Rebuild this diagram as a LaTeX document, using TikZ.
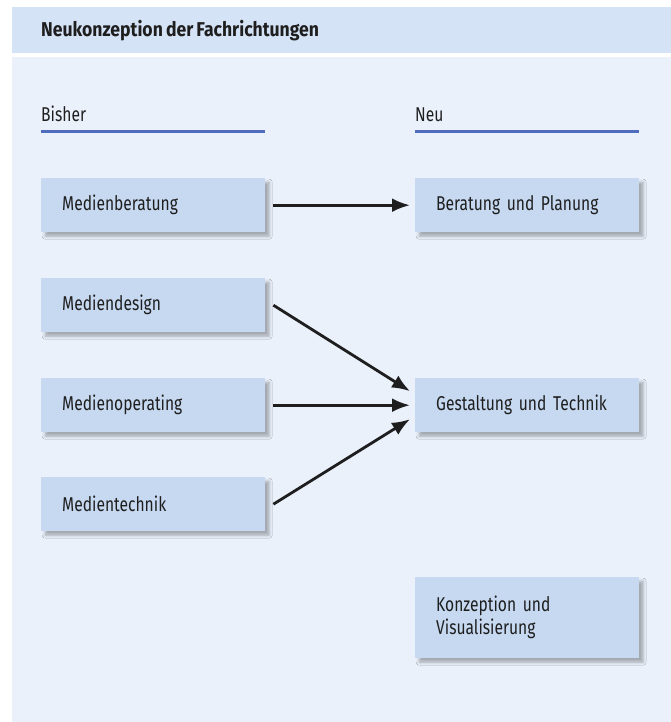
\documentclass[tikz,border=0pt]{standalone}
\usepackage{fontspec}
\setmainfont{Fira Sans}[FakeStretch=0.78, WordSpace=0.75]
\newfontfamily\titlefont{Fira Sans}[FakeStretch=0.88, WordSpace=0.75]
\usetikzlibrary{arrows.meta,shadows.blur}
\definecolor{headbg}{HTML}{D5E3F6}
\definecolor{bodybg}{HTML}{EAF1FB}
\definecolor{boxbg}{HTML}{C6D9F1}
\definecolor{rule}{HTML}{4E6DBE}
\definecolor{txt}{HTML}{1E1E1E}
\tikzset{
  boxnode/.style={fill=boxbg, draw=none, rectangle, anchor=north west,
    minimum width=224pt, minimum height=54pt, inner xsep=21pt, inner ysep=0pt,
    text width=182pt, align=left, font=\fontsize{20}{23}\selectfont, text=txt,
    blur shadow={shadow xshift=4pt, shadow yshift=-4pt, shadow blur radius=3pt, shadow opacity=30}},
  arr/.style={line width=2.8pt, color=txt, -{Latex[length=18pt,width=14pt]}},
  colhead/.style={anchor=base west, inner sep=0pt, font=\fontsize{20}{22}\selectfont, text=txt},
  rulebar/.style={line width=3pt, color=rule}
}
\begin{document}
\begin{tikzpicture}[x=1pt,y=-1pt]
\useasboundingbox (0,0) rectangle (671,722);
\fill[white] (0,0) rectangle (671,722);
\fill[headbg] (12,7) rectangle (671,53);
\fill[bodybg] (12,57) rectangle (671,722);
\node[anchor=base west, inner sep=0pt, font=\titlefont\fontsize{20}{22}\selectfont\bfseries, text=txt] (title) at (41,37) {Neukonzeption der Fachrichtungen};
\node[colhead] (bisher) at (41,122) {Bisher};
\node[colhead] (neu) at (415,122) {Neu};
\coordinate (bl1) at (41,132); \coordinate (bl2) at (265,132);
\coordinate (nl1) at (415,132); \coordinate (nl2) at (639,132);
\draw[rulebar] (bl1) -- (bl2);
\draw[rulebar] (nl1) -- (nl2);
\node[boxnode] (mb) at (41,178) {Medienberatung};
\node[boxnode] (md) at (41,278) {Mediendesign};
\node[boxnode] (mo) at (41,378) {Medienoperating};
\node[boxnode] (mt) at (41,477) {Medientechnik};
\node[boxnode] (bp) at (415,178) {Beratung und Planung};
\node[boxnode] (gt) at (415,378) {Gestaltung und Technik};
\node[boxnode, minimum height=81pt] (kv) at (415,577) {Konzeption und\\Visualisierung};
\draw[arr] ([xshift=8pt]mb.east) -- ([xshift=-5pt]bp.west);
\draw[arr] ([xshift=8pt]md.east) -- ([xshift=-5pt,yshift=14pt]gt.west);
\draw[arr] ([xshift=8pt]mo.east) -- ([xshift=-5pt]gt.west);
\draw[arr] ([xshift=8pt]mt.east) -- ([xshift=-5pt,yshift=-14pt]gt.west);
\end{tikzpicture}
\end{document}
